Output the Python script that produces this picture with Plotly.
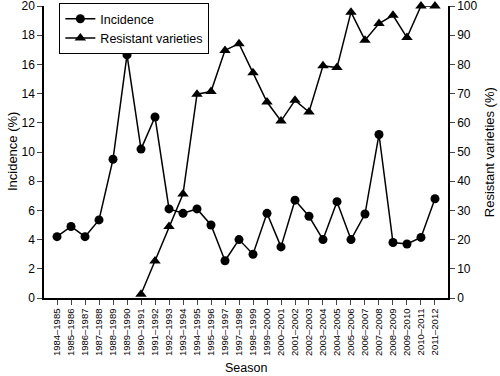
import plotly.graph_objects as go

seasons = ["1984–1985","1985–1986","1986–1987","1987–1988","1988–1989","1989–1990",
           "1990–1991","1991–1992","1992–1993","1993–1994","1994–1995","1995–1996",
           "1996–1997","1997–1998","1998–1999","1999–2000","2000–2001","2001–2002",
           "2002–2003","2003–2004","2004–2005","2005–2006","2006–2007","2007–2008",
           "2008–2009","2009–2010","2010–2011","2011–2012"]
incidence = [4.2, 4.9, 4.2, 5.35, 9.5, 16.65, 10.2, 12.4, 6.1, 5.8, 6.1, 5.0,
             2.55, 4.0, 3.0, 5.8, 3.5, 6.7, 5.6, 4.0, 6.6, 4.0, 5.75, 11.2,
             3.8, 3.7, 4.15, 6.8]
resistant = [None, None, None, None, None, None, 1.3, 12.7, 24.5, 35.6, 69.8, 70.7,
             84.8, 87.1, 77.1, 67.1, 60.6, 67.7, 63.7, 79.5, 78.9, 97.9, 88.3, 94.0,
             96.8, 89.2, 100, 100]
left_ticks = [0, 2, 4, 6, 8, 10, 12, 14, 16, 18, 20]
right_ticks = [0, 10, 20, 30, 40, 50, 60, 70, 80, 90, 100]

xpos = list(range(len(seasons)))

fig = go.Figure()
fig.add_trace(go.Scatter(x=xpos, y=incidence, name="Incidence", mode="lines+markers",
                         line=dict(color="black", width=1.5),
                         marker=dict(symbol="circle", size=9, color="black"),
                         yaxis="y", cliponaxis=False))
fig.add_trace(go.Scatter(x=xpos, y=resistant, name="Resistant varieties", mode="lines+markers",
                         line=dict(color="black", width=1.5),
                         marker=dict(symbol="triangle-up", size=10, color="black"),
                         yaxis="y2", connectgaps=False, cliponaxis=False))

font = "Liberation Sans, Arial, sans-serif"
fig.update_layout(
    width=500, height=376,
    margin=dict(l=44, r=52, t=6, b=78, autoexpand=False),
    paper_bgcolor="white", plot_bgcolor="white",
    font=dict(family=font, size=12, color="black"),
    showlegend=True,
    legend=dict(x=0.038, y=1.01, xanchor="left", yanchor="top",
                bordercolor="black", borderwidth=1, bgcolor="white",
                font=dict(size=12.5), tracegroupgap=0, itemwidth=30),
    xaxis=dict(range=[-0.93, 27.93], tickmode="array", tickvals=xpos, ticktext=seasons,
               tickangle=-90, tickfont=dict(size=9.5), ticks="outside", ticklen=5,
               showline=True, linecolor="black", linewidth=1.5, showgrid=False,
               zeroline=False, automargin=False, ticklabeloverflow="allow"),
    yaxis=dict(range=[0, 20], tickvals=left_ticks, ticks="outside", ticklen=5,
               showline=True, linecolor="black", linewidth=1.5, showgrid=False,
               zeroline=False, tickfont=dict(size=12), automargin=False,
               ticklabeloverflow="allow"),
    yaxis2=dict(range=[0, 100], tickvals=right_ticks, overlaying="y", side="right",
                ticks="outside", ticklen=5, showline=True, linecolor="black", linewidth=1.5,
                showgrid=False, zeroline=False, tickfont=dict(size=12), automargin=False,
                ticklabeloverflow="allow"),
    annotations=[
        dict(text="Season", xref="paper", yref="paper", x=0.5, y=-0.24,
             xanchor="center", yanchor="middle", showarrow=False, font=dict(size=12.5)),
        dict(text="Incidence (%)", xref="paper", yref="paper", x=-0.079, y=0.5,
             xanchor="center", yanchor="middle", textangle=-90, showarrow=False,
             font=dict(size=13)),
        dict(text="Resistant varieties (%)", xref="paper", yref="paper", x=1.102, y=0.5,
             xanchor="center", yanchor="middle", textangle=-90, showarrow=False,
             font=dict(size=13)),
    ],
)
fig.write_html("out.html", config={"displayModeBar": False},
               post_script="document.body.style.margin='0';document.body.style.padding='0';")
